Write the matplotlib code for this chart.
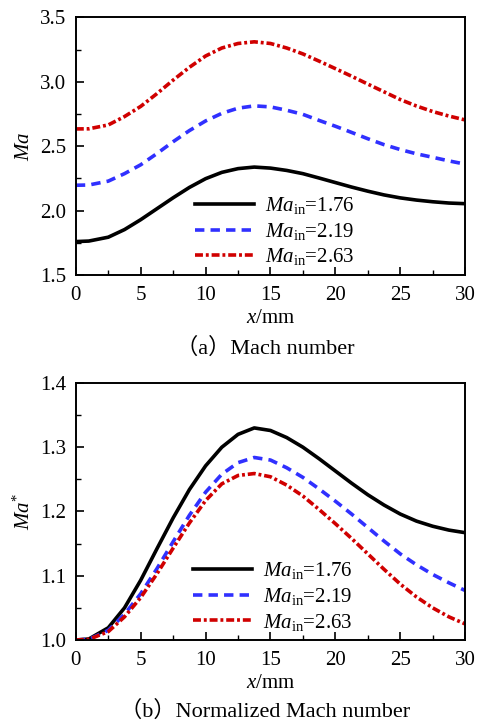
import matplotlib
matplotlib.use("Agg")
import matplotlib.pyplot as plt
from matplotlib.ticker import MultipleLocator, FormatStrFormatter

plt.rcParams['font.family'] = ['Liberation Serif', 'Noto Sans CJK SC']
plt.rcParams['mathtext.fontset'] = 'custom'
plt.rcParams['mathtext.rm'] = 'Liberation Serif'
plt.rcParams['mathtext.it'] = 'Liberation Serif:italic'
plt.rcParams['font.size'] = 15

x = [0, 1, 2.5, 3.75, 5, 6.25, 7.5, 8.75, 10, 11.25, 12.5, 13.75, 15, 16.25,
     17.5, 18.75, 20, 21.25, 22.5, 23.75, 25, 26.25, 27.5, 28.75, 30]

ma_176 = [1.76, 1.764, 1.794, 1.853, 1.930, 2.015, 2.100, 2.180, 2.248, 2.297, 2.326, 2.338, 2.330,
          2.312, 2.287, 2.253, 2.218, 2.183, 2.151, 2.122, 2.099, 2.082, 2.069, 2.059, 2.054]
ma_219 = [2.197, 2.199, 2.229, 2.287, 2.356, 2.443, 2.535, 2.621, 2.696, 2.755, 2.795, 2.813, 2.805,
          2.779, 2.747, 2.700, 2.655, 2.607, 2.558, 2.512, 2.474, 2.441, 2.414, 2.386, 2.361]
ma_263 = [2.634, 2.635, 2.665, 2.730, 2.809, 2.908, 3.013, 3.112, 3.200, 3.262, 3.297, 3.310, 3.297,
          3.262, 3.216, 3.160, 3.102, 3.043, 2.982, 2.922, 2.862, 2.812, 2.769, 2.734, 2.704]

mas_176 = [1.0, 1.0015, 1.019, 1.050, 1.093, 1.142, 1.190, 1.234, 1.271, 1.300, 1.320, 1.330, 1.326,
           1.315, 1.300, 1.282, 1.263, 1.244, 1.226, 1.210, 1.196, 1.185, 1.177, 1.171, 1.167]
mas_219 = [1.0, 1.001, 1.015, 1.040, 1.072, 1.111, 1.153, 1.194, 1.230, 1.258, 1.276, 1.284, 1.280,
           1.268, 1.253, 1.235, 1.216, 1.196, 1.175, 1.154, 1.134, 1.117, 1.102, 1.089, 1.077]
mas_263 = [1.0, 1.001, 1.013, 1.036, 1.066, 1.103, 1.143, 1.182, 1.217, 1.243, 1.256, 1.259, 1.254,
           1.241, 1.224, 1.203, 1.181, 1.158, 1.134, 1.110, 1.087, 1.067, 1.050, 1.036, 1.025]

labels = [r"$\mathit{Ma}_{\mathrm{in}}$=1.76", r"$\mathit{Ma}_{\mathrm{in}}$=2.19",
          r"$\mathit{Ma}_{\mathrm{in}}$=2.63"]

fig = plt.figure(figsize=(4.8, 7.22), dpi=100)

styles = [dict(color='black', lw=2.6, ls='-'),
          dict(color='#3030ff', lw=2.6, ls=(0, (2.6, 1.7))),
          dict(color='#d00000', lw=2.6, ls=(0, (2.2, 0.8, 0.8, 0.8)))]


def setup(ax, ylim, major, minor, ylabel):
    ax.set_xlim(0, 30)
    ax.set_ylim(*ylim)
    ax.xaxis.set_major_locator(MultipleLocator(5))
    ax.xaxis.set_minor_locator(MultipleLocator(2.5))
    ax.yaxis.set_major_locator(MultipleLocator(major))
    ax.yaxis.set_minor_locator(MultipleLocator(minor))
    ax.yaxis.set_major_formatter(FormatStrFormatter('%.1f'))
    ax.tick_params(which='both', direction='in', top=False, right=False, labelsize=15)
    ax.tick_params(axis='x', pad=8)
    ax.tick_params(axis='y', pad=7)
    ax.tick_params(which='major', length=6, width=1.2)
    ax.tick_params(which='minor', length=3.5, width=1.0)
    for s in ax.spines.values():
        s.set_linewidth(1.4)
    ax.set_xlabel(r"$x$/mm", fontsize=15, labelpad=3)
    ax.set_ylabel(ylabel, fontsize=15, labelpad=4)


ax1 = fig.add_axes([0.158, 0.619, 0.811, 0.357])
for y, st, lab in zip([ma_176, ma_219, ma_263], styles, labels):
    ax1.plot(x, y, label=lab, **st)
setup(ax1, (1.5, 3.5), 0.5, 0.25, r"$\mathit{Ma}$")
ax1.legend(loc='upper left', bbox_to_anchor=(0.28, 0.35), frameon=False, handlelength=2.8,
           handletextpad=0.55, labelspacing=0.22, borderpad=0, fontsize=15)
fig.text(0.552, 0.518, "（a）Mach number", ha='center', va='center', fontsize=16)

ax2 = fig.add_axes([0.158, 0.1136, 0.811, 0.356])
for y, st, lab in zip([mas_176, mas_219, mas_263], styles, labels):
    ax2.plot(x, y, label=lab, **st)
setup(ax2, (1.0, 1.4), 0.1, 0.05, r"$\mathit{Ma}^{*}$")
ax2.legend(loc='upper left', bbox_to_anchor=(0.275, 0.35), frameon=False, handlelength=2.8,
           handletextpad=0.55, labelspacing=0.22, borderpad=0, fontsize=15)
fig.text(0.552, 0.015, "（b）Normalized Mach number", ha='center', va='center', fontsize=16)

fig.savefig("out.png", dpi=100)
